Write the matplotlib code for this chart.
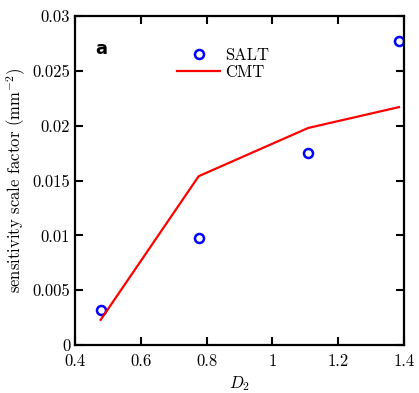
import matplotlib
matplotlib.use("Agg")
import matplotlib.pyplot as plt
from matplotlib.ticker import FuncFormatter

plt.rcParams['font.family'] = 'serif'
plt.rcParams['font.serif'] = ['cmr10']
plt.rcParams['mathtext.fontset'] = 'cm'
plt.rcParams['axes.formatter.use_mathtext'] = True

# data
d2 = [0.478, 0.776, 1.109, 1.385]
salt = [0.0032, 0.0098, 0.0175, 0.0277]
cmt = [0.0023, 0.0154, 0.0198, 0.0217]

x_ticks = [0.4, 0.6, 0.8, 1.0, 1.2, 1.4]
y_ticks = [0, 0.005, 0.01, 0.015, 0.02, 0.025, 0.03]


def fmt(v, pos):
    s = f"{v:.3f}".rstrip('0').rstrip('.')
    return s


fig = plt.figure(figsize=(4.19, 3.93), dpi=100)
ax = fig.add_axes([0.179, 0.122, 0.785, 0.837])

ax.plot(d2, salt, 'o', mfc='none', mec='blue', ms=6.5, mew=1.8, label='SALT')
ax.plot(d2, cmt, '-', color='red', lw=1.6, label='CMT')

ax.set_xlim(0.4, 1.4)
ax.set_ylim(0, 0.03)
ax.set_xticks(x_ticks)
ax.set_yticks(y_ticks)
ax.xaxis.set_major_formatter(FuncFormatter(fmt))
ax.yaxis.set_major_formatter(FuncFormatter(fmt))
ax.tick_params(direction='in', top=True, right=True, length=6, width=1.5, labelsize=12)
ax.tick_params(axis='x', pad=6)
for sp in ax.spines.values():
    sp.set_linewidth(1.6)

ax.set_xlabel('$D_2$', fontsize=12, labelpad=4)
ax.set_ylabel('sensitivity scale factor (mm$^{-2}$)', fontsize=12, labelpad=3)

ax.text(0.08, 0.9, 'a', transform=ax.transAxes, fontsize=13, fontweight='bold',
        family='DejaVu Sans', va='center', ha='center')

ax.legend(loc='upper left', bbox_to_anchor=(0.29, 0.925), frameon=False, fontsize=12,
          handlelength=2.6, handletextpad=0.3, labelspacing=0.12, borderaxespad=0)

fig.savefig('out.png', dpi=100)
